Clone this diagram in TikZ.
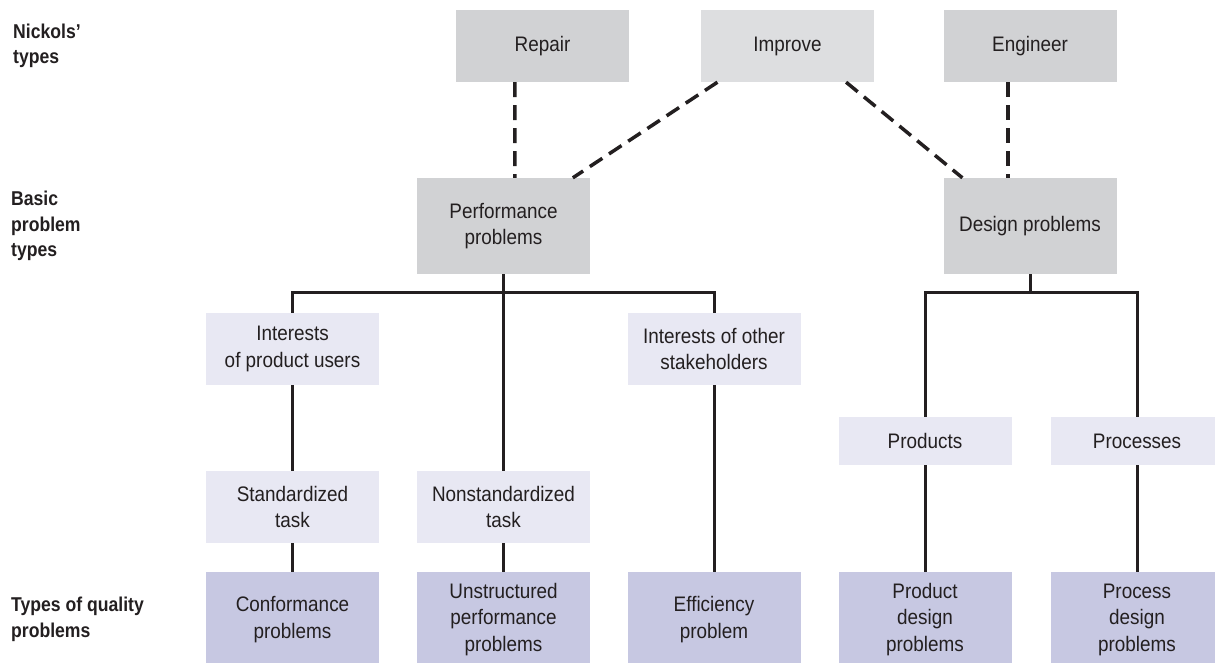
\documentclass[tikz,border=0pt]{standalone}
\usepackage{fontspec}
\setmainfont[FakeStretch=0.9]{Liberation Sans}
\newfontfamily\lblfont[FakeStretch=0.88]{Liberation Sans}
\usetikzlibrary{calc}
\definecolor{txt}{HTML}{231F20}
\definecolor{gA}{HTML}{D1D2D4}
\definecolor{gB}{HTML}{DDDEE0}
\definecolor{lav}{HTML}{E8E8F3}
\definecolor{blu}{HTML}{C7C8E2}
\begin{document}
\begin{tikzpicture}[x=1pt,y=-1pt,
  box/.style={rectangle, inner sep=0pt, minimum width=173pt, align=center, text=txt,
    font=\fontsize{21}{26.5}\selectfont},
  topbox/.style={box, fill=gA, minimum height=72pt},
  midbox/.style={box, fill=gA, minimum height=96pt},
  lavbox/.style={box, fill=lav, minimum height=72pt},
  botbox/.style={box, fill=blu, minimum height=95pt},
  lbl/.style={inner sep=0pt, align=left, text=txt, anchor=west,
    font=\lblfont\bfseries\fontsize{20}{25.5}\selectfont},
  tree/.style={draw=txt, line width=3pt, line join=miter},
  dashln/.style={draw=txt, line width=3.5pt, dash pattern=on 15pt off 8pt}
]
\useasboundingbox (0,0) rectangle (1215,662);
\fill[white] (0,0) rectangle (1215,662);

% left labels
\node[lbl] (l1) at (13,46) {Nickols’\\types};
\node[lbl] (l2) at (11,226) {Basic\\problem\\types};
\node[lbl] (l3) at (11,619.5) {Types of quality\\problems};

% top row
\node[topbox] (repair) at (542.5,46) {Repair};
\node[topbox, fill=gB] (improve) at (787.5,46) {Improve};
\node[topbox] (engineer) at (1030,46) {Engineer};

% basic problem types
\node[midbox] (perf) at (503.5,226) {Performance\\problems};
\node[midbox] (design) at (1030,226) {Design problems};

% intermediate
\node[lavbox] (iu) at (292.5,349) {Interests\\of product users};
\node[lavbox] (io) at (714,349) {Interests of other\\stakeholders};
\node[lavbox, minimum height=48pt] (prod) at (925,441) {Products};
\node[lavbox, minimum height=48pt] (proc) at (1137,441) {Processes};
\node[lavbox] (st) at (292.5,507) {Standardized\\task};
\node[lavbox] (nst) at (503.5,507) {Nonstandardized\\task};

% bottom row
\node[botbox] (conf) at (292.5,619.5) {Conformance\\problems};
\node[botbox] (unstr) at (503.5,619.5) {Unstructured\\performance\\problems};
\node[botbox] (eff) at (714,619.5) {Efficiency\\problem};
\node[botbox] (pdp) at (925,619.5) {Product\\design\\problems};
\node[botbox] (prdp) at (1137,619.5) {Process\\design\\problems};

% dashed links
\draw[dashln] ($(repair.south west)!0.341!(repair.south east)$) -- ($(perf.north west)!0.566!(perf.north east)$);
\draw[dashln] ($(improve.south west)!0.096!(improve.south east)$) -- ($(perf.north west)!0.90!(perf.north east)$);
\draw[dashln] ($(improve.south west)!0.838!(improve.south east)$) -- ($(design.north west)!0.11!(design.north east)$);
\draw[dashln] ($(engineer.south west)!0.372!(engineer.south east)$) -- ($(design.north west)!0.372!(design.north east)$);

% performance tree
\coordinate (pbar) at (503.5,292);
\draw[tree] (perf.south) -- (pbar);
\draw[tree] (iu.north) |- (pbar) -| (io.north);
\draw[tree] (pbar) -- (nst.north);
\draw[tree] (iu.south) -- (st.north);
\draw[tree] (st.south) -- (conf.north);
\draw[tree] (nst.south) -- (unstr.north);
\draw[tree] (io.south) -- (eff.north);

% design tree
\coordinate (dbar) at (1030,292);
\draw[tree] (design.south) -- (dbar);
\draw[tree] (prod.north) |- (dbar) -| (proc.north);
\draw[tree] (prod.south) -- (pdp.north);
\draw[tree] (proc.south) -- (prdp.north);
\end{tikzpicture}
\end{document}
